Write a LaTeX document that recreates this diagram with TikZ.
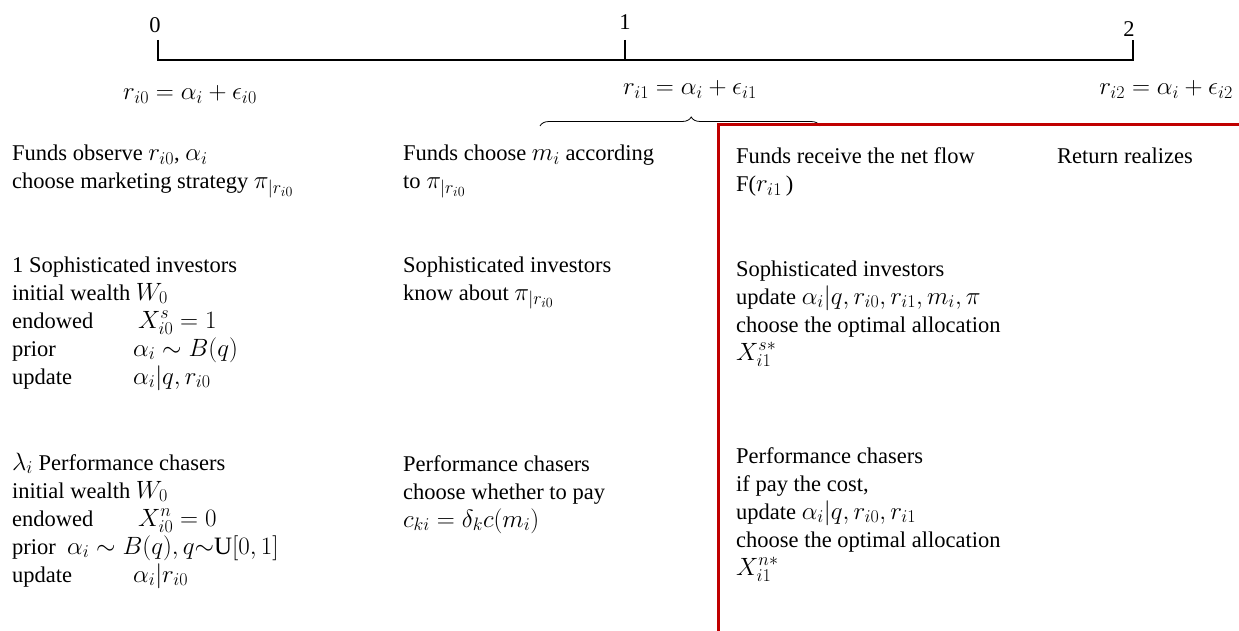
\RequirePackage{fix-cm}
\documentclass[tikz,border=0pt]{standalone}
\usepackage{fontspec}
\setmainfont{Liberation Serif}
\DeclareMathSizes{22.5}{25}{18}{14}
\usetikzlibrary{decorations.pathreplacing}
\definecolor{boxred}{HTML}{C00000}
\newcommand{\mlines}[1]{\begin{tabular}[t]{@{}l@{}}#1\end{tabular}}
\begin{document}
\begin{tikzpicture}[x=1pt,y=-1pt,
  txt/.style={font=\fontsize{22.5}{28}\selectfont, inner sep=0pt, anchor=base west},
  ctr/.style={font=\fontsize{22.5}{28}\selectfont, inner sep=0pt, anchor=base},
  axis/.style={line width=2.5pt},
  redline/.style={draw=boxred, line width=3pt},
  bracestyle/.style={decorate, decoration={brace, amplitude=9pt, aspect=0.54}, line width=0.8pt}]
\useasboundingbox (0,0) rectangle (1239,631);
% timeline
\coordinate (t0) at (158,60);
\coordinate (t1) at (625,60);
\coordinate (t2) at (1133,60);
\coordinate (t0top) at (158,40);
\coordinate (t1top) at (625,40);
\coordinate (t2top) at (1133,40);
\draw[axis] (t0top) -- (t0) -- (t2) -- (t2top);
\draw[axis] (t1top) -- (t1);
\node[ctr] (l0) at (155,33) {0};
\node[ctr] (l1) at (625,30) {1};
\node[ctr] (l2) at (1129,37) {2};
\node[ctr] (r0) at (190,100) {$r_{i0}=\alpha_i+\epsilon_{i0}$};
\node[ctr] (r1) at (690,95) {$r_{i1}=\alpha_i+\epsilon_{i1}$};
\node[txt, anchor=base east] (r2) at (1233,95) {$r_{i2}=\alpha_i+\epsilon_{i2}$};
% brace
\coordinate (bl) at (540,126);
\coordinate (br) at (820,126);
\draw[bracestyle] (bl) -- (br);
% red box
\coordinate (rb0) at (718,640);
\coordinate (rb1) at (718,125);
\coordinate (rb2) at (1250,125);
\draw[redline] (rb0) -- (rb1) -- (rb2);
% column 1
\node[txt] (c1a) at (12,161) {\mlines{Funds observe $r_{i0}$, $\alpha_i$\\ choose marketing strategy $\pi_{|r_{i0}}$}};
\node[txt] (c1b) at (12,272) {\mlines{1 Sophisticated investors\\
 initial wealth $W_0$\\
 \makebox[126pt][l]{endowed}$X^s_{i0}=1$\\
 \makebox[121pt][l]{prior}$\alpha_i\sim B(q)$\\
 \makebox[121pt][l]{update}$\alpha_i|q,r_{i0}$}};
\node[txt] (c1c) at (12,470) {\mlines{$\lambda_i$ Performance chasers\\
 initial wealth $W_0$\\
 \makebox[126pt][l]{endowed}$X^n_{i0}=0$\\
 prior\ \ $\alpha_i\sim B(q), q{\sim}\mathrm{U}[0,1]$\\
 \makebox[121pt][l]{update}$\alpha_i|r_{i0}$}};
% column 2
\node[txt] (c2a) at (403,161) {\mlines{Funds choose $m_i$ according\\ to $\pi_{|r_{i0}}$}};
\node[txt] (c2b) at (403,272) {\mlines{Sophisticated investors\\ know about $\pi_{|r_{i0}}$}};
\node[txt] (c2c) at (403,471) {\mlines{Performance chasers\\ choose whether to pay\\ $c_{ki}=\delta_k c(m_i)$}};
% column 3
\node[txt] (c3a) at (736,164) {\mlines{Funds receive the net flow\\ F($r_{i1}$\,)}};
\node[txt] (c3r) at (1057,164) {Return realizes};
\node[txt] (c3b) at (736,276) {\mlines{Sophisticated investors\\ update $\alpha_i|q,r_{i0},r_{i1},m_i,\pi$\\ choose the optimal allocation\\ $X^{s*}_{i1}$}};
\node[txt] (c3c) at (736,463) {\mlines{Performance chasers\\ if pay the cost,\\ update $\alpha_i|q,r_{i0},r_{i1}$\\ choose the optimal allocation\\ $X^{n*}_{i1}$}};
\end{tikzpicture}
\end{document}
